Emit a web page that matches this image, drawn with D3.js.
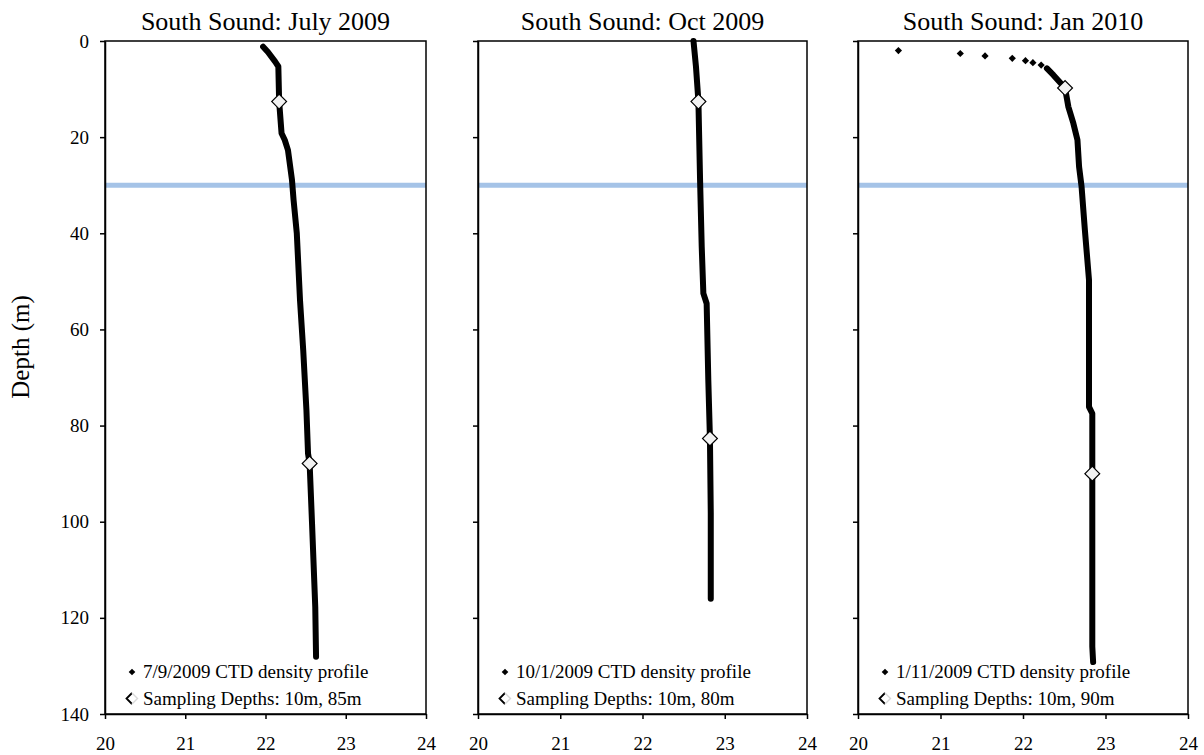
<!DOCTYPE html>
<html>
<head>
<meta charset="utf-8">
<script src="https://cdn.jsdelivr.net/npm/d3@7"></script>
<style>
  html, body { margin: 0; padding: 0; background: #fff; }
  svg { display: block; }
  text { font-family: "Liberation Serif", "Times New Roman", serif; fill: #000; }
</style>
</head>
<body>
<svg id="chart" width="1204" height="755"></svg>
<script>
// Sigma-t density (x) against depth in metres (y) for three CTD casts
const panelTitles = ["South Sound: July 2009", "South Sound: Oct 2009", "South Sound: Jan 2010"];
const profileLabels = ["7/9/2009 CTD density profile", "10/1/2009 CTD density profile", "1/11/2009 CTD density profile"];
const samplingLabels = ["Sampling Depths: 10m, 85m", "Sampling Depths: 10m, 80m", "Sampling Depths: 10m, 90m"];

const densityTicks = [20, 21, 22, 23, 24];
const depthTicks = [0, 20, 40, 60, 80, 100, 120, 140];
const referenceDepth = 30;

// [density, depth] along each continuous profile
const julyProfile = [
  [21.97, 1.2], [22.03, 2.3], [22.12, 4.3], [22.16, 5.3], [22.17, 12.6],
  [22.20, 19.2], [22.24, 20.6], [22.28, 22.7], [22.33, 28.9], [22.35, 33.1],
  [22.39, 40.0], [22.43, 53.9], [22.47, 64.3], [22.51, 76.8], [22.53, 85.8],
  [22.55, 87.9], [22.58, 100.4], [22.62, 117.7], [22.63, 128.1]
];
const octProfile = [
  [22.62, 0.0], [22.65, 5.3], [22.68, 12.6], [22.70, 29.0], [22.72, 42.8],
  [22.74, 52.5], [22.78, 54.6], [22.80, 70.5], [22.82, 82.7], [22.83, 98.2],
  [22.83, 116.0]
];
const janProfile = [
  [22.29, 5.7], [22.37, 7.1], [22.51, 9.8], [22.55, 13.7], [22.61, 17.1],
  [22.66, 20.6], [22.68, 26.2], [22.71, 30.3], [22.75, 39.3], [22.80, 49.7],
  [22.80, 76.1], [22.84, 77.5], [22.84, 90.0], [22.84, 126.0], [22.85, 129.2]
];
// separate near-surface readings of the January cast
const janSurface = [
  [20.49, 2.0], [21.24, 2.6], [21.54, 3.1], [21.87, 3.6], [22.03, 4.1],
  [22.12, 4.5], [22.22, 5.0]
];
const profiles = [julyProfile, octProfile, janProfile];
const surfacePoints = [[], [], janSurface];

// sampling-depth markers [density, depth]
const julySamples = [[22.17, 12.6], [22.55, 87.9]];
const octSamples = [[22.68, 12.6], [22.82, 82.7]];
const janSamples = [[22.51, 9.8], [22.84, 90.0]];
const samples = [julySamples, octSamples, janSamples];

const svg = d3.select("#chart");
const plotTop = 41, plotBottom = 714;
const panelX = [[105, 426], [478, 807], [858, 1188]];

const y = d3.scaleLinear().domain([0, 140]).range([plotTop, plotBottom]);

panelX.forEach(([x0, x1], i) => {
  const x = d3.scaleLinear().domain([20, 24]).range([x0, x1]);
  const g = svg.append("g");

  // reference depth band
  g.append("line")
    .attr("x1", x0).attr("x2", x1)
    .attr("y1", y(referenceDepth)).attr("y2", y(referenceDepth))
    .attr("stroke", "#a5c3e7").attr("stroke-width", 5);

  // density profile
  const line = d3.line().x(d => x(d[0])).y(d => y(d[1]));
  g.append("path")
    .datum(profiles[i])
    .attr("d", line)
    .attr("fill", "none")
    .attr("stroke", "#000")
    .attr("stroke-width", 6)
    .attr("stroke-linejoin", "round")
    .attr("stroke-linecap", "round");

  g.selectAll(".surf").data(surfacePoints[i]).join("path")
    .attr("transform", d => `translate(${x(d[0])},${y(d[1])}) rotate(45)`)
    .attr("d", d3.symbol().type(d3.symbolSquare).size(26))
    .attr("fill", "#000");

  // sampling-depth markers
  g.selectAll(".samp").data(samples[i]).join("path")
    .attr("transform", d => `translate(${x(d[0])},${y(d[1])}) rotate(45)`)
    .attr("d", d3.symbol().type(d3.symbolSquare).size(110))
    .attr("fill", "#f2f2f2")
    .attr("stroke", "#000")
    .attr("stroke-width", 1.2);

  // frame
  g.append("rect")
    .attr("x", x0).attr("y", plotTop)
    .attr("width", x1 - x0).attr("height", plotBottom - plotTop)
    .attr("fill", "none").attr("stroke", "#000").attr("stroke-width", 1.5);

  // axes
  const yAxis = d3.axisLeft(y).tickValues(depthTicks).tickSize(5).tickSizeOuter(0).tickPadding(11)
    .tickFormat(i > 0 ? "" : d3.format("d"));
  const ya = g.append("g").attr("transform", `translate(${x0},0)`).call(yAxis);
  const xAxis = d3.axisBottom(x).tickValues(densityTicks).tickSize(5).tickSizeOuter(0).tickPadding(18)
    .tickFormat(d3.format("d"));
  const xa = g.append("g").attr("transform", `translate(0,${plotBottom})`).call(xAxis);
  [ya, xa].forEach(a => {
    a.attr("font-family", "Liberation Serif").attr("font-size", 19);
    a.select(".domain").attr("stroke", "#000").attr("stroke-width", 1.5);
    a.selectAll(".tick line").attr("stroke", "#000").attr("stroke-width", 1.5);
    a.selectAll(".tick text").attr("fill", "#000");
  });

  // title
  g.append("text")
    .attr("x", (x0 + x1) / 2).attr("y", 30)
    .attr("text-anchor", "middle")
    .attr("font-size", 26)
    .text(panelTitles[i]);

  // legend
  const lg = g.append("g").attr("transform", `translate(${x0},0)`);
  lg.append("path")
    .attr("transform", `translate(27,672) rotate(45)`)
    .attr("d", d3.symbol().type(d3.symbolSquare).size(22))
    .attr("fill", "#000");
  lg.append("text").attr("x", 38).attr("y", 678).attr("font-size", 19).text(profileLabels[i]);
  lg.append("path")
    .attr("d", "M27,693 L21.5,698.5 L27,704")
    .attr("fill", "none").attr("stroke", "#000").attr("stroke-width", 1.8);
  lg.append("path")
    .attr("d", "M27,693 L32.5,698.5 L27,704")
    .attr("fill", "none").attr("stroke", "#d8d8d8").attr("stroke-width", 1.4);
  lg.append("text").attr("x", 38).attr("y", 705).attr("font-size", 19).text(samplingLabels[i]);
});

// shared depth label
svg.append("text")
  .attr("transform", "translate(29,347) rotate(-90)")
  .attr("text-anchor", "middle")
  .attr("font-size", 25)
  .text("Depth (m)");
</script>
</body>
</html>
